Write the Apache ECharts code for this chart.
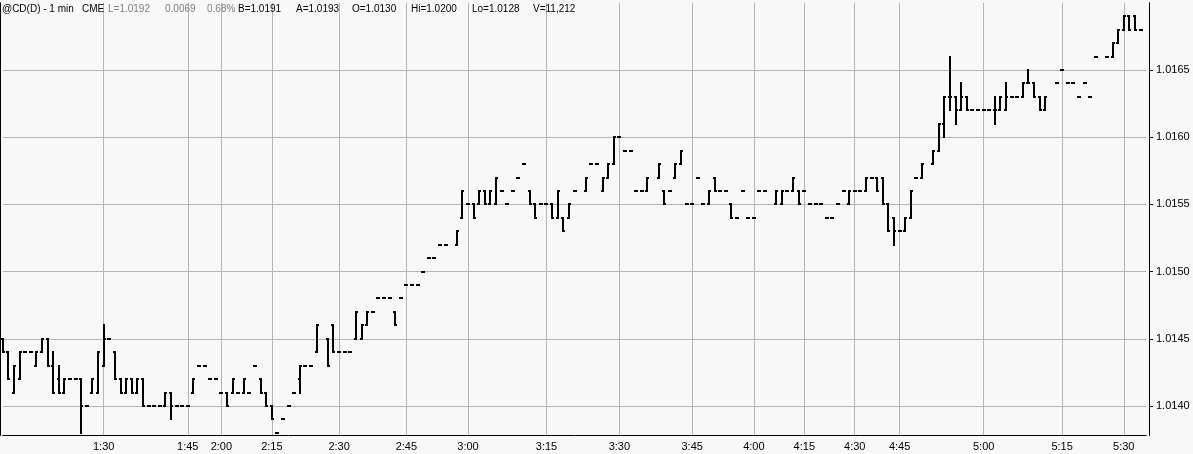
<!DOCTYPE html>
<html><head><meta charset="utf-8">
<script src="https://cdn.jsdelivr.net/npm/echarts@6/dist/echarts.min.js"></script>
<style>html,body{margin:0;padding:0;background:#f8f8f8}#c{width:1193px;height:454px}</style>
</head><body><div id="c"></div>
<script>
// ---- data ----
const slotCount = 205;
const labelSlots = [18,33,39,48,60,72,83,97,110,123,134,143,152,160,175,189,200];
const labelTexts = ['1:30','1:45','2:00','2:15','2:30','2:45','3:00','3:15','3:30','3:45','4:00','4:15','4:30','4:45','5:00','5:15','5:30'];
const barSlot = [
0,1,2,3,4,5,6,7,8,9,
10,11,12,13,14,15,16,17,18,19,
20,21,22,23,24,25,26,27,28,29,
30,31,32,33,34,35,36,37,38,39,
40,41,42,43,44,45,46,47,48,49,
50,51,52,53,54,55,56,58,59,60,
61,62,63,64,65,66,67,68,69,70,
71,72,73,74,75,76,77,78,79,81,
82,83,84,85,86,87,88,89,90,91,
92,93,94,95,96,97,98,99,100,101,
102,104,105,106,107,108,109,110,111,112,
113,114,115,117,118,119,120,121,122,123,
124,125,126,127,128,129,130,131,132,133,
134,135,136,138,139,140,141,142,143,144,
145,146,147,148,149,150,151,152,153,154,
155,156,157,158,159,160,161,162,163,164,
166,167,168,169,170,171,172,173,174,175,
176,177,178,179,180,181,182,183,184,185,
186,188,189,190,191,192,193,194,195,197,
198,199,200,201,202,203];
const openPx = [
1.0145,1.0144,1.0141,1.0142,1.0144,1.0144,1.0143,1.0144,1.0145,1.0143,
1.0142,1.0141,1.0142,1.0142,1.0142,1.0140,1.0141,1.0141,1.0143,1.0145,
1.0144,1.0142,1.0141,1.0142,1.0141,1.0142,1.0140,1.0140,1.0140,1.0140,
1.0141,1.0140,1.0140,1.0140,1.0141,1.0143,1.0143,1.0142,1.0142,1.0141,
1.0141,1.0141,1.0141,1.0141,1.0141,1.0143,1.0142,1.0141,1.0140,1.0138,
1.0139,1.0140,1.0141,1.0142,1.0143,1.0143,1.0144,1.0145,1.0146,1.0144,
1.0144,1.0144,1.0145,1.0145,1.0146,1.0147,1.0148,1.0148,1.0148,1.0147,
1.0148,1.0149,1.0149,1.0149,1.0150,1.0151,1.0151,1.0152,1.0152,1.0152,
1.0154,1.0155,1.0155,1.0155,1.0156,1.0155,1.0155,1.0156,1.0155,1.0156,
1.0157,1.0158,1.0156,1.0155,1.0155,1.0155,1.0155,1.0154,1.0154,1.0154,
1.0156,1.0156,1.0158,1.0158,1.0156,1.0157,1.0158,1.0160,1.0159,1.0159,
1.0156,1.0156,1.0156,1.0157,1.0156,1.0156,1.0157,1.0158,1.0155,1.0155,
1.0157,1.0155,1.0155,1.0157,1.0156,1.0156,1.0155,1.0154,1.0156,1.0154,
1.0154,1.0156,1.0156,1.0155,1.0155,1.0156,1.0156,1.0156,1.0156,1.0155,
1.0155,1.0155,1.0154,1.0154,1.0155,1.0156,1.0155,1.0156,1.0156,1.0156,
1.0157,1.0157,1.0157,1.0155,1.0154,1.0153,1.0153,1.0154,1.0157,1.0157,
1.0158,1.0159,1.0161,1.0163,1.0163,1.0162,1.0163,1.0162,1.0162,1.0162,
1.0162,1.0162,1.0162,1.0162,1.0163,1.0163,1.0163,1.0164,1.0164,1.0163,
1.0162,1.0164,1.0165,1.0164,1.0164,1.0163,1.0164,1.0163,1.0166,1.0166,
1.0166,1.0167,1.0168,1.0169,1.0169,1.0168];
const highPx = [
1.0145,1.0144,1.0143,1.0144,1.0144,1.0144,1.0144,1.0145,1.0145,1.0144,
1.0143,1.0142,1.0142,1.0142,1.0142,1.0140,1.0142,1.0144,1.0146,1.0145,
1.0144,1.0142,1.0142,1.0142,1.0142,1.0142,1.0140,1.0140,1.0140,1.0141,
1.0141,1.0140,1.0140,1.0140,1.0142,1.0143,1.0143,1.0142,1.0142,1.0141,
1.0141,1.0142,1.0141,1.0142,1.0141,1.0143,1.0142,1.0141,1.0140,1.0138,
1.0139,1.0140,1.0141,1.0143,1.0143,1.0143,1.0146,1.0145,1.0146,1.0144,
1.0144,1.0144,1.0147,1.0146,1.0147,1.0147,1.0148,1.0148,1.0148,1.0147,
1.0148,1.0149,1.0149,1.0149,1.0150,1.0151,1.0151,1.0152,1.0152,1.0153,
1.0156,1.0155,1.0155,1.0156,1.0156,1.0156,1.0157,1.0156,1.0155,1.0156,
1.0157,1.0158,1.0156,1.0155,1.0155,1.0155,1.0155,1.0156,1.0154,1.0155,
1.0156,1.0157,1.0158,1.0158,1.0157,1.0158,1.0160,1.0160,1.0159,1.0159,
1.0156,1.0156,1.0157,1.0158,1.0156,1.0156,1.0158,1.0159,1.0155,1.0155,
1.0157,1.0155,1.0156,1.0157,1.0156,1.0156,1.0155,1.0154,1.0156,1.0154,
1.0154,1.0156,1.0156,1.0156,1.0156,1.0156,1.0157,1.0156,1.0156,1.0155,
1.0155,1.0155,1.0154,1.0154,1.0155,1.0156,1.0156,1.0156,1.0156,1.0157,
1.0157,1.0157,1.0157,1.0155,1.0154,1.0153,1.0154,1.0156,1.0157,1.0158,
1.0159,1.0161,1.0163,1.0166,1.0163,1.0164,1.0163,1.0162,1.0162,1.0162,
1.0162,1.0163,1.0163,1.0164,1.0163,1.0163,1.0164,1.0165,1.0164,1.0163,
1.0163,1.0164,1.0165,1.0164,1.0164,1.0163,1.0164,1.0163,1.0166,1.0166,
1.0167,1.0168,1.0169,1.0169,1.0169,1.0168];
const lowPx = [
1.0144,1.0142,1.0141,1.0142,1.0144,1.0144,1.0143,1.0144,1.0143,1.0141,
1.0141,1.0141,1.0142,1.0142,1.0138,1.0140,1.0141,1.0141,1.0143,1.0145,
1.0142,1.0141,1.0141,1.0141,1.0141,1.0140,1.0140,1.0140,1.0140,1.0140,
1.0139,1.0140,1.0140,1.0140,1.0141,1.0143,1.0143,1.0142,1.0142,1.0141,
1.0140,1.0141,1.0141,1.0141,1.0141,1.0143,1.0141,1.0140,1.0139,1.0138,
1.0139,1.0140,1.0141,1.0141,1.0143,1.0143,1.0144,1.0143,1.0144,1.0144,
1.0144,1.0144,1.0145,1.0145,1.0146,1.0147,1.0148,1.0148,1.0148,1.0146,
1.0148,1.0149,1.0149,1.0149,1.0150,1.0151,1.0151,1.0152,1.0152,1.0152,
1.0154,1.0155,1.0154,1.0155,1.0155,1.0155,1.0155,1.0156,1.0155,1.0156,
1.0157,1.0158,1.0155,1.0154,1.0155,1.0155,1.0154,1.0154,1.0153,1.0154,
1.0156,1.0156,1.0158,1.0158,1.0156,1.0157,1.0158,1.0160,1.0159,1.0159,
1.0156,1.0156,1.0156,1.0157,1.0155,1.0156,1.0157,1.0158,1.0155,1.0155,
1.0157,1.0155,1.0155,1.0156,1.0156,1.0156,1.0154,1.0154,1.0156,1.0154,
1.0154,1.0156,1.0156,1.0155,1.0155,1.0156,1.0156,1.0155,1.0156,1.0155,
1.0155,1.0155,1.0154,1.0154,1.0155,1.0156,1.0155,1.0156,1.0156,1.0156,
1.0157,1.0156,1.0155,1.0153,1.0152,1.0153,1.0153,1.0154,1.0157,1.0157,
1.0158,1.0159,1.0160,1.0162,1.0161,1.0162,1.0162,1.0162,1.0162,1.0162,
1.0162,1.0161,1.0162,1.0162,1.0163,1.0163,1.0163,1.0164,1.0163,1.0162,
1.0162,1.0164,1.0165,1.0164,1.0164,1.0163,1.0164,1.0163,1.0166,1.0166,
1.0166,1.0167,1.0168,1.0168,1.0168,1.0168];
const closePx = [
1.0144,1.0142,1.0143,1.0144,1.0144,1.0144,1.0144,1.0145,1.0143,1.0141,
1.0141,1.0142,1.0142,1.0142,1.0140,1.0140,1.0142,1.0144,1.0145,1.0145,
1.0142,1.0141,1.0142,1.0141,1.0142,1.0140,1.0140,1.0140,1.0140,1.0141,
1.0140,1.0140,1.0140,1.0140,1.0142,1.0143,1.0143,1.0142,1.0142,1.0141,
1.0140,1.0142,1.0141,1.0142,1.0141,1.0143,1.0141,1.0140,1.0139,1.0138,
1.0139,1.0140,1.0141,1.0143,1.0143,1.0143,1.0146,1.0143,1.0144,1.0144,
1.0144,1.0144,1.0147,1.0146,1.0147,1.0147,1.0148,1.0148,1.0148,1.0146,
1.0148,1.0149,1.0149,1.0149,1.0150,1.0151,1.0151,1.0152,1.0152,1.0153,
1.0156,1.0155,1.0154,1.0156,1.0155,1.0156,1.0157,1.0156,1.0155,1.0156,
1.0157,1.0158,1.0155,1.0154,1.0155,1.0155,1.0154,1.0156,1.0153,1.0155,
1.0156,1.0157,1.0158,1.0158,1.0157,1.0158,1.0160,1.0160,1.0159,1.0159,
1.0156,1.0156,1.0157,1.0158,1.0155,1.0156,1.0158,1.0159,1.0155,1.0155,
1.0157,1.0155,1.0156,1.0156,1.0156,1.0156,1.0154,1.0154,1.0156,1.0154,
1.0154,1.0156,1.0156,1.0156,1.0156,1.0156,1.0157,1.0155,1.0156,1.0155,
1.0155,1.0155,1.0154,1.0154,1.0155,1.0156,1.0156,1.0156,1.0156,1.0157,
1.0157,1.0156,1.0155,1.0153,1.0153,1.0153,1.0154,1.0156,1.0157,1.0158,
1.0159,1.0161,1.0163,1.0163,1.0162,1.0163,1.0162,1.0162,1.0162,1.0162,
1.0162,1.0162,1.0163,1.0163,1.0163,1.0163,1.0164,1.0164,1.0163,1.0162,
1.0163,1.0164,1.0165,1.0164,1.0164,1.0163,1.0164,1.0163,1.0166,1.0166,
1.0167,1.0168,1.0169,1.0168,1.0168,1.0168];
const headerTexts = ['@CD(D) - 1 min','CME','L=1.0192','0.0069','0.68%','B=1.0191','A=1.0193','O=1.0130','Hi=1.0200','Lo=1.0128','V=11,212'];
const headerMuted = [false,false,true,true,true,false,false,false,false,false,false];

// ---- build ----
const labelMap = {};
labelSlots.forEach((s, i) => { labelMap[s] = labelTexts[i]; });
const categories = [];
for (let i = 0; i < slotCount; i++) categories.push(labelMap[i] !== undefined ? labelMap[i] : ('m' + i));
const isLabelled = (idx) => labelMap[idx] !== undefined;
const seriesData = barSlot.map((s, i) => [s, openPx[i], highPx[i], lowPx[i], closePx[i]]);

const FONT = 'Liberation Sans, Arial, sans-serif';
const GRID_L = 2.8, GRID_R = 46.8, AX_OFF = 2.8;
const headerX = [2, 82, 108, 165, 207, 238, 296, 352, 411, 472, 533];

function renderItem(params, api) {
  const s = api.value(0);
  const pO = api.coord([s, api.value(1)]);
  const pH = api.coord([s, api.value(2)]);
  const pL = api.coord([s, api.value(3)]);
  const pC = api.coord([s, api.value(4)]);
  const cx = Math.round(pH[0]);
  const yH = Math.round(pH[1]) - 1;
  const yL = Math.round(pL[1]) + 1;
  const st = { fill: '#000' };
  return {
    type: 'group',
    children: [
      { type: 'rect', shape: { x: cx - 1, y: yH, width: 2, height: Math.max(2, yL - yH) }, style: st },
      { type: 'rect', shape: { x: cx - 2, y: Math.round(pO[1]) - 1, width: 1, height: 2 }, style: st },
      { type: 'rect', shape: { x: cx + 1, y: Math.round(pC[1]) - 1, width: 1, height: 2 }, style: st }
    ]
  };
}

const chart = echarts.init(document.getElementById('c'), null, { renderer: 'canvas' });
chart.setOption({
  animation: false,
  backgroundColor: '#f8f8f8',
  grid: { left: GRID_L, right: GRID_R, top: 2.8, bottom: 18.5, containLabel: false },
  xAxis: {
    type: 'category', data: categories, boundaryGap: false,
    axisLine: { show: true, lineStyle: { color: '#000', width: 1 } },
    axisTick: { show: false },
    axisLabel: { interval: isLabelled, color: '#000', fontSize: 11, fontFamily: FONT, margin: 6 },
    splitLine: { show: true, interval: isLabelled, lineStyle: { color: '#b4b4b4', width: 1 } }
  },
  yAxis: [{
    type: 'value', position: 'right', offset: AX_OFF,
    min: 1.0137805, max: 1.0170, splitNumber: 6, minInterval: 0.0005, maxInterval: 0.0005,
    axisLine: { show: true, lineStyle: { color: '#000', width: 1 } },
    axisTick: { show: true, length: 4, lineStyle: { color: '#000' } },
    axisLabel: {
      color: '#000', fontSize: 11, fontFamily: FONT, margin: 7,
      showMinLabel: false, showMaxLabel: false,
      formatter: (v) => (v > 1.01695 || v < 1.01395) ? '' : v.toFixed(4)
    },
    splitLine: { show: true, showMinLine: false, showMaxLine: false, lineStyle: { color: '#b4b4b4', width: 1 } }
  }, {
    type: 'value', position: 'left', offset: AX_OFF,
    min: 1.0137805, max: 1.0170,
    axisLine: { show: true, lineStyle: { color: '#000', width: 1 } },
    axisTick: { show: false }, axisLabel: { show: false }, splitLine: { show: false }
  }],
  series: [{
    type: 'custom', yAxisIndex: 0, renderItem: renderItem,
    data: seriesData, encode: { x: 0, y: [1, 2, 3, 4] }, clip: false, z: 5
  }],
  graphic: headerTexts.map((t, i) => ({
    type: 'text', left: headerX[i], top: 4, z: 100,
    style: { text: t, fill: headerMuted[i] ? '#808080' : '#000', font: '10px ' + FONT }
  }))
});
</script>
</body></html>
